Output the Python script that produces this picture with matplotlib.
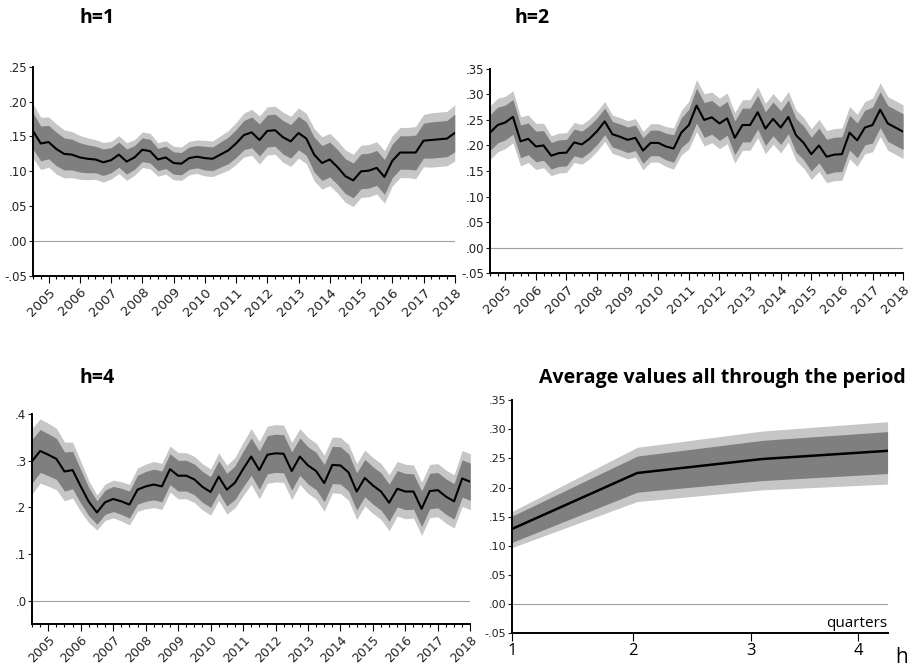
import numpy as np
import pandas as pd
import matplotlib
matplotlib.use("Agg")
import matplotlib.pyplot as plt
from matplotlib.ticker import FuncFormatter, MultipleLocator

# quarterly sample
quarters = pd.period_range("2004Q3", periods=55, freq="Q")

# point estimates, h=1,2,4
h1 = [.158, .140, .142, .132, .125, .124, .120, .118, .117, .113, .116, .124, .114, .120,
      .131, .129, .117, .120, .112, .111, .119, .121, .119, .118, .124, .130, .140, .152,
      .156, .145, .158, .159, .149, .143, .155, .147, .124, .112, .117, .106, .093, .087,
      .100, .101, .105, .092, .115, .127, .127, .127, .144, .145, .146, .147, .155]
h2 = [.225, .240, .245, .256, .208, .213, .198, .200, .180, .185, .186, .206, .202, .213,
      .228, .247, .222, .217, .211, .215, .190, .205, .205, .198, .194, .225, .240, .278,
      .250, .255, .243, .253, .215, .240, .240, .265, .233, .252, .235, .256, .220, .205,
      .183, .200, .178, .182, .183, .225, .210, .235, .240, .270, .243, .235, .227]
h4 = [.299, .321, .313, .304, .277, .280, .245, .212, .189, .211, .218, .213, .206, .238,
      .245, .249, .245, .282, .268, .268, .260, .244, .233, .266, .238, .253, .282, .309,
      .280, .313, .316, .315, .278, .309, .290, .278, .252, .291, .290, .275, .234, .263,
      .247, .234, .210, .240, .234, .234, .197, .235, .237, .223, .213, .262, .255]

# half width of the inner band
h1_se = [.026, .025, .024, .024, .023, .022, .021, .020, .019, .019, .018, .018, .018, .017,
         .017, .017, .016, .016, .016, .016, .016, .016, .017, .017, .018, .019, .020, .021,
         .022, .023, .023, .023, .024, .024, .024, .024, .025, .025, .025, .025, .025, .025,
         .025, .025, .025, .025, .024, .024, .024, .025, .025, .026, .026, .026, .027]
h2_se = [.035, .035, .034, .034, .032, .031, .030, .029, .026, .026, .026, .026, .026, .026,
         .026, .026, .025, .025, .025, .025, .025, .025, .025, .026, .027, .029, .031, .034,
         .034, .033, .033, .033, .033, .033, .033, .033, .033, .033, .033, .033, .033, .033,
         .033, .034, .034, .034, .034, .034, .034, .034, .035, .035, .035, .035, .035]
h4_se = [.047, .046, .045, .044, .042, .040, .036, .030, .025, .026, .027, .028, .029, .031,
         .032, .033, .033, .033, .033, .033, .033, .033, .033, .034, .035, .036, .038, .040,
         .041, .041, .041, .041, .041, .040, .040, .040, .040, .040, .040, .040, .040, .040,
         .040, .040, .040, .039, .039, .038, .038, .038, .038, .038, .038, .040, .040]

# averages over the period by horizon
horizons = [1, 2, 3, 4]
avg = [.129, .225, .249, .263]
avg_in_lo = [.106, .192, .212, .224]
avg_in_hi = [.151, .254, .281, .296]
avg_out_lo = [.097, .176, .196, .206]
avg_out_hi = [.159, .269, .297, .313]
avg_tick_pos = [1, 1.967, 2.913, 3.766]

DARK = "#7f7f7f"
LIGHT = "#c6c6c6"


def fmt(v, pos):
    s = "%.1f" % v
    return s.replace("0.", ".")


def fmt2(v, pos):
    s = "%.2f" % v
    return s.replace("0.", ".")


def style(ax, ylim, step, f):
    ax.set_ylim(ylim)
    ax.yaxis.set_major_locator(MultipleLocator(step))
    ax.yaxis.set_major_formatter(FuncFormatter(f))
    for s in ["top", "right"]:
        ax.spines[s].set_visible(False)
    for s in ["left", "bottom"]:
        ax.spines[s].set_linewidth(1.4)
    ax.axhline(0, color="#a0a0a0", lw=0.8)
    ax.tick_params(axis="y", labelsize=8.5, length=3, width=0.8, pad=1, colors="#222222")


def time_panel(ax, y, se, ylim, step, f, lsize=9.5):
    x = np.arange(len(quarters))
    y = np.array(y)
    se = np.array(se)
    ax.fill_between(x, y - 1.5 * se, y + 1.5 * se, color=LIGHT, lw=0)
    ax.fill_between(x, y - se, y + se, color=DARK, lw=0)
    ax.plot(x, y, color="black", lw=1.5)
    ax.set_xlim(0, len(quarters) - 1)
    style(ax, ylim, step, f)
    major = [i for i, q in enumerate(quarters) if q.quarter == 1]
    ax.set_xticks(major)
    ax.set_xticklabels([str(quarters[i].year) for i in major], rotation=45,
                       ha="right", rotation_mode="anchor", fontsize=lsize, color="#222222")
    ax.set_xticks(x, minor=True)
    ax.tick_params(axis="x", which="major", length=5, width=0.8, pad=2)
    ax.tick_params(axis="x", which="minor", length=2.5, width=0.8)


fig = plt.figure(figsize=(9.15, 6.68), dpi=100)
tfont = dict(fontsize=14, fontweight="bold", family="Open Sans")

ax1 = fig.add_axes([0.036, 0.587, 0.461, 0.313])
time_panel(ax1, h1, h1_se, (-0.05, 0.25), 0.05, fmt2)
fig.text(0.087, 0.973, "h=1", va="center", **tfont)

ax2 = fig.add_axes([0.5355, 0.591, 0.4515, 0.306])
time_panel(ax2, h2, h2_se, (-0.05, 0.35), 0.05, fmt2)
fig.text(0.562, 0.973, "h=2", va="center", **tfont)

ax3 = fig.add_axes([0.035, 0.066, 0.479, 0.314])
time_panel(ax3, h4, h4_se, (-0.05, 0.4), 0.1, fmt, lsize=9)
ax3.set_yticks([0, 0.1, 0.2, 0.3, 0.4])
fig.text(0.087, 0.434, "h=4", va="center", **tfont)

ax4 = fig.add_axes([0.5596, 0.052, 0.4104, 0.349])
ax4.fill_between(horizons, avg_out_lo, avg_out_hi, color=LIGHT, lw=0)
ax4.fill_between(horizons, avg_in_lo, avg_in_hi, color=DARK, lw=0)
ax4.plot(horizons, avg, color="black", lw=1.8)
ax4.set_xlim(1, 4)
style(ax4, (-0.05, 0.35), 0.05, fmt2)
ax4.tick_params(axis="y", labelsize=8)
ax4.set_xticks(avg_tick_pos)
ax4.set_xticklabels(["1", "2", "3", "4"], fontsize=12, family="Open Sans")
ax4.tick_params(axis="x", length=6, width=0.8, pad=1)
ax4.text(1.0, 0.01, "quarters", transform=ax4.transAxes, ha="right", va="bottom",
         fontsize=11, family="Open Sans")
fig.text(0.99, 0.434, "Average values all through the period", ha="right", va="center",
         **tfont)
fig.text(0.978, 0.008, "h", fontsize=15, family="Open Sans")

fig.savefig("out.png", dpi=100)
